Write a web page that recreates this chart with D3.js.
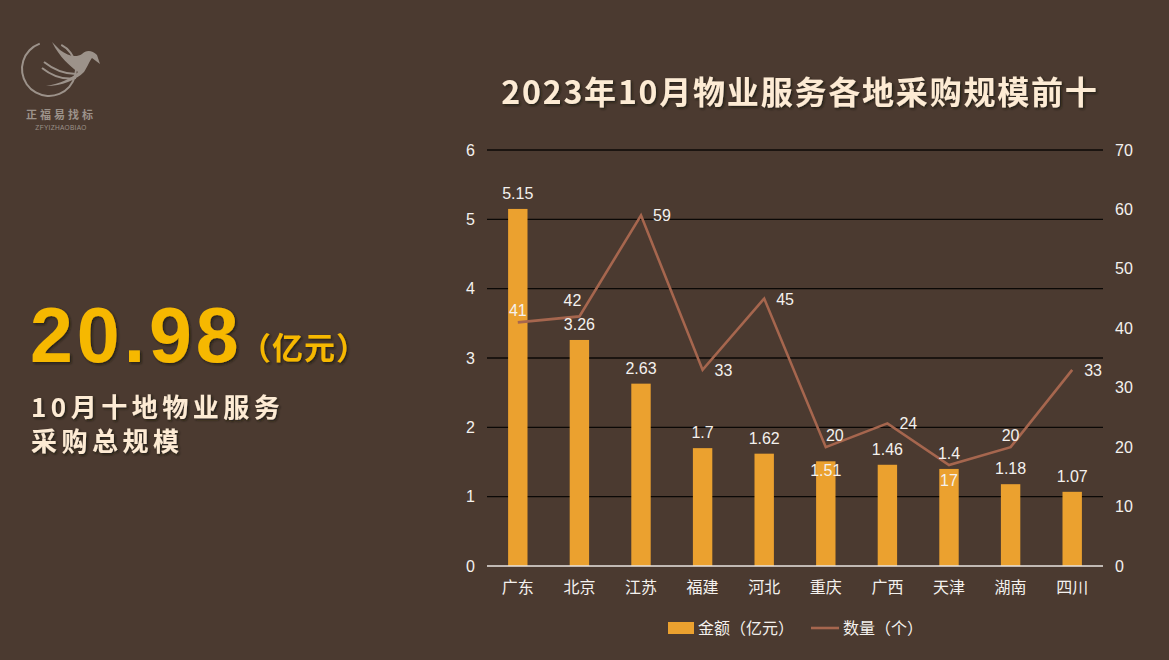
<!DOCTYPE html>
<html><head><meta charset="utf-8">
<script src="https://cdn.jsdelivr.net/npm/d3@7"></script>
<style>
html,body{margin:0;padding:0;background:#4b3a30;}
svg{display:block;}
</style></head>
<body><div id="chart"></div>
<script>
const categories = ["广东","北京","江苏","福建","河北","重庆","广西","天津","湖南","四川"];
const amounts = [5.15,3.26,2.63,1.7,1.62,1.51,1.46,1.4,1.18,1.07];
const counts = [41,42,59,33,45,20,24,17,20,33];
const leftTicks = [0,1,2,3,4,5,6];
const rightTicks = [0,10,20,30,40,50,60,70];
const countLabelPos = ["above","aboveLeft","right","right","right","aboveRight","right","below","above","right"];
const title = "2023年10月物业服务各地采购规模前十";
const total = "20.98";

const W = 1169, H = 660;
const BG = "#4b3a30", BAR = "#eba12f", LINE = "#a6664e", CREAM = "#fdebd4", TXT = "#f4f1ee";
const FONT = "'Liberation Sans','Noto Sans CJK SC',sans-serif";
const CJK = "'Noto Sans CJK SC','Liberation Sans',sans-serif";

const svg = d3.select("#chart").append("svg").attr("width", W).attr("height", H);
svg.append("rect").attr("width", W).attr("height", H).attr("fill", BG);
const defs = svg.append("defs");
const f = defs.append("filter").attr("id","sh").attr("x","-10%").attr("y","-10%").attr("width","130%").attr("height","140%");
f.append("feDropShadow").attr("dx",1.5).attr("dy",1.5).attr("stdDeviation",1).attr("flood-color","#1a120c").attr("flood-opacity",0.8);

// Logo
const logo = svg.append("g").attr("fill","none").attr("stroke","#9c928a");
logo.append("path").attr("d", d3.arc()({innerRadius:26,outerRadius:28,startAngle:Math.PI*0.15,endAngle:Math.PI*2-0.35}))
  .attr("transform","translate(49,69)").attr("fill","#9c928a").attr("stroke","none");
logo.append("path").attr("d","M52 42 C60 58 70 66 78 72 C72 78 60 84 46 86 C62 86 76 80 84 72 C88 66 90 60 92 58 L100 64 L97 55 C92 50 86 50 82 54 C76 58 68 56 60 50 Z")
  .attr("fill","#9c928a").attr("stroke","none");
logo.append("path").attr("d","M44 62 C54 70 64 74 76 74").attr("stroke-width",2);
logo.append("path").attr("d","M42 68 C52 76 64 80 76 78").attr("stroke-width",2);
svg.append("text").attr("x",61).attr("y",119).attr("text-anchor","middle").attr("fill","#9c928a")
  .attr("font-family",CJK).attr("font-weight","bold").attr("font-size",11).attr("letter-spacing",3).text("正福易找标");
svg.append("text").attr("x",61).attr("y",130).attr("text-anchor","middle").attr("fill","#9c928a")
  .attr("font-family",FONT).attr("font-size",6.5).attr("letter-spacing",0.3).text("ZFYIZHAOBIAO");

// Left summary
svg.append("text").attr("x",30).attr("y",362).attr("filter","url(#sh)")
  .attr("fill","#f6b800").attr("font-family",FONT).attr("font-weight","bold").attr("font-size",77).attr("letter-spacing",4).text(total);
svg.append("text").attr("x",240).attr("y",359).attr("fill","#f6b800").attr("font-family",CJK).attr("font-weight","bold")
  .attr("font-size",31).attr("letter-spacing",1).attr("filter","url(#sh)").text("（亿元）");
svg.append("text").attr("x",31).attr("y",417).attr("fill",CREAM).attr("font-family",CJK).attr("font-weight","bold")
  .attr("font-size",26).attr("letter-spacing",4.5).attr("filter","url(#sh)").text("10月十地物业服务");
svg.append("text").attr("x",31).attr("y",451).attr("fill",CREAM).attr("font-family",CJK).attr("font-weight","bold")
  .attr("font-size",26).attr("letter-spacing",4.5).attr("filter","url(#sh)").text("采购总规模");

// Title
svg.append("text").attr("x",800).attr("y",104).attr("text-anchor","middle").attr("fill",CREAM)
  .attr("font-family",CJK).attr("font-weight","bold").attr("font-size",32).attr("letter-spacing",1.8)
  .attr("filter","url(#sh)").text(title);

// Scales
const x = d3.scaleBand().domain(categories).range([487,1103]).padding(0);
const yL = d3.scaleLinear().domain([0,6]).range([566,150]);
const yR = d3.scaleLinear().domain([0,70]).range([566,150]);
const bw = x.bandwidth()*0.315;
const cx = d => x(d) + x.bandwidth()/2;

// Grid
svg.append("g").selectAll("line").data(leftTicks.filter(t=>t>0)).join("line")
  .attr("x1",487).attr("x2",1103).attr("y1",d=>yL(d)).attr("y2",d=>yL(d))
  .attr("stroke","#0b0806").attr("stroke-width",1.3);

// Axes
const axL = svg.append("g").attr("transform","translate(487,0)")
  .call(d3.axisLeft(yL).tickValues(leftTicks).tickFormat(d3.format("d")).tickSize(0).tickPadding(12));
const axR = svg.append("g").attr("transform","translate(1103,0)")
  .call(d3.axisRight(yR).tickValues(rightTicks).tickFormat(d3.format("d")).tickSize(0).tickPadding(12));
const axB = svg.append("g").attr("transform","translate(0,566)")
  .call(d3.axisBottom(x).tickSize(0).tickPadding(16));
[axL,axR,axB].forEach(a=>{
  a.select(".domain").remove();
  a.selectAll("text").attr("fill",TXT).attr("font-size",16).attr("font-family",FONT);
});
axB.selectAll("text").attr("font-family",CJK).attr("font-size",16);

// Bars
svg.append("g").selectAll("rect").data(categories).join("rect")
  .attr("x",d=>cx(d)-bw/2).attr("width",bw)
  .attr("y",(d,i)=>yL(amounts[i])).attr("height",(d,i)=>yL(0)-yL(amounts[i]))
  .attr("fill",BAR);

// baseline
svg.append("line").attr("x1",487).attr("x2",1103).attr("y1",566).attr("y2",566).attr("stroke","#e8e4e0").attr("stroke-width",1.3);

// Line
const line = d3.line().x((d,i)=>cx(categories[i])).y(d=>yR(d));
svg.append("path").datum(counts).attr("d",line).attr("fill","none").attr("stroke",LINE).attr("stroke-width",2.6).attr("stroke-linejoin","miter");

// Bar labels (moved into the bar top when they would collide with a count label)
svg.append("g").selectAll("text").data(categories).join("text")
  .attr("x",d=>cx(d))
  .attr("y",(d,i)=>{
    const top = yL(amounts[i]);
    const lp = countLabelPos[i];
    const ly = yR(counts[i]);
    if (lp.startsWith("above") && Math.abs((top-10) - (ly-8)) < 20) return top+15;
    return top-10;
  })
  .attr("text-anchor","middle").attr("fill",TXT).attr("font-size",16).attr("font-family",FONT)
  .text((d,i)=>amounts[i]);

// Count labels
svg.append("g").selectAll("text").data(categories).join("text")
  .attr("x",(d,i)=>{
    const p=countLabelPos[i], X=cx(d);
    if (p==="right") return X+12;
    if (p==="aboveLeft") return X-7;
    if (p==="aboveRight") return X+9;
    return X;
  })
  .attr("y",(d,i)=>{
    const p=countLabelPos[i], Y=yR(counts[i]);
    if (p==="right") return Y+6;
    if (p==="below") return Y+21;
    if (p==="aboveLeft") return Y-10;
    return Y-6;
  })
  .attr("text-anchor",(d,i)=>countLabelPos[i]==="right"?"start":"middle")
  .attr("fill",TXT).attr("font-size",16).attr("font-family",FONT)
  .text((d,i)=>counts[i]);

// Legend
const lg = svg.append("g").attr("font-family",CJK).attr("font-size",16).attr("fill",TXT);
lg.append("rect").attr("x",668).attr("y",622).attr("width",26).attr("height",12).attr("fill",BAR);
lg.append("text").attr("x",698).attr("y",634).attr("fill",TXT).text("金额（亿元）");
lg.append("line").attr("x1",811).attr("x2",839).attr("y1",628).attr("y2",628).attr("stroke",LINE).attr("stroke-width",2.6);
lg.append("text").attr("x",843).attr("y",634).attr("fill",TXT).text("数量（个）");
</script></body></html>
